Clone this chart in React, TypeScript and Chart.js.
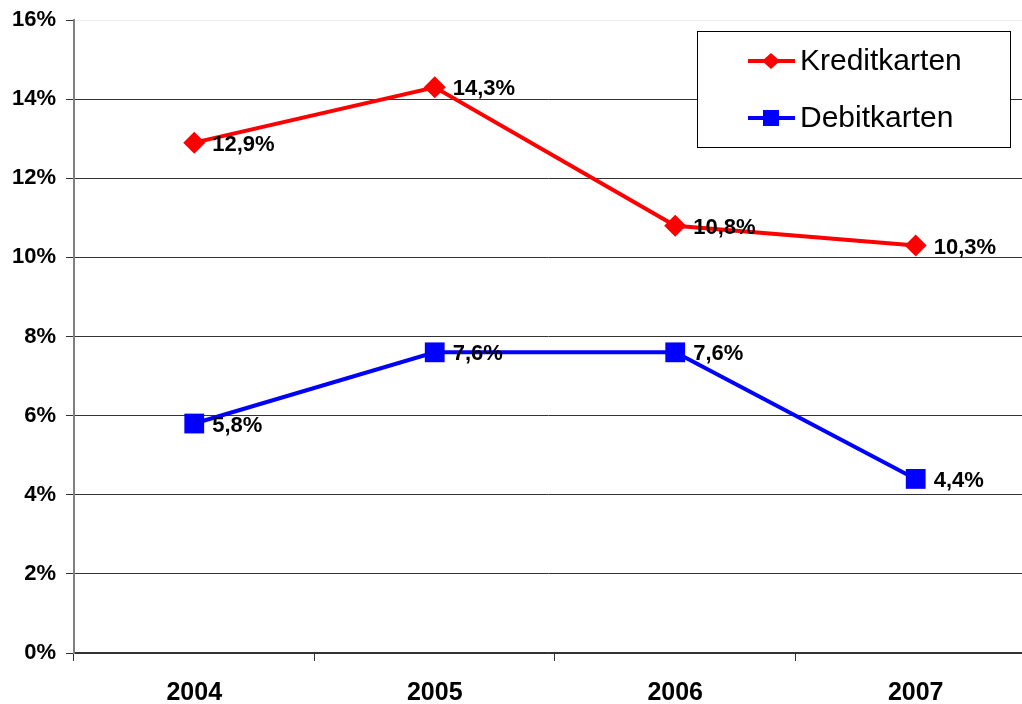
import React, { useEffect, useRef } from "react";
import { Chart, registerables } from "chart.js";

Chart.register(...registerables);

const categories = ["2004", "2005", "2006", "2007"];
const kreditValues = [12.9, 14.3, 10.8, 10.3];
const debitValues = [5.8, 7.6, 7.6, 4.4];
const seriesNames = ["Kreditkarten", "Debitkarten"];
const yTicks = [0, 2, 4, 6, 8, 10, 12, 14, 16];
const seriesValues = [kreditValues, debitValues];

const FONT = "'Liberation Sans', Arial, sans-serif";
// visible part of the category axis (the plot runs slightly past the right edge)
const X_MIN = -0.5;
const X_MAX = 3.442;

const dataLabelPlugin = {
  id: "dataLabels",
  afterDatasetsDraw(chart: any) {
    const ctx = chart.ctx;
    ctx.save();
    ctx.font = `bold 22px ${FONT}`;
    ctx.fillStyle = "#000";
    ctx.textAlign = "left";
    ctx.textBaseline = "middle";
    chart.data.datasets.forEach((_ds: any, i: number) => {
      const meta = chart.getDatasetMeta(i);
      meta.data.forEach((pt: any, j: number) => {
        const v = seriesValues[i][j];
        const txt = v.toFixed(1).replace(".", ",") + "%";
        ctx.fillText(txt, pt.x + 18, pt.y + 2);
      });
    });
    ctx.restore();
  },
};

const legendPlugin = {
  id: "customLegend",
  afterDraw(chart: any) {
    const ctx = chart.ctx;
    ctx.save();
    const x0 = 697, y0 = 31, w = 313, h = 116;
    ctx.fillStyle = "#fff";
    ctx.fillRect(x0, y0, w, h);
    ctx.strokeStyle = "#000";
    ctx.lineWidth = 1;
    ctx.strokeRect(x0 + 0.5, y0 + 0.5, w, h);
    const rows = [
      { y: 61, color: "#ff0000", style: "rectRot", r: 8 },
      { y: 118, color: "#0000ff", style: "rect", r: 12 },
    ];
    rows.forEach((row, i) => {
      ctx.strokeStyle = row.color;
      ctx.lineWidth = 4;
      ctx.beginPath();
      ctx.moveTo(748, row.y);
      ctx.lineTo(795, row.y);
      ctx.stroke();
      ctx.fillStyle = row.color;
      if (row.style === "rectRot") {
        ctx.beginPath();
        ctx.moveTo(771, row.y - row.r);
        ctx.lineTo(771 + row.r + 1, row.y);
        ctx.lineTo(771, row.y + row.r);
        ctx.lineTo(771 - row.r - 1, row.y);
        ctx.closePath();
        ctx.fill();
      } else {
        ctx.fillRect(771 - 8, row.y - 8, 16, 16);
      }
      ctx.fillStyle = "#000";
      ctx.font = `30px ${FONT}`;
      ctx.textAlign = "left";
      ctx.textBaseline = "middle";
      ctx.fillText(seriesNames[i], 800, row.y + 1);
    });
    ctx.restore();
  },
};

export default function App() {
  const ref = useRef<HTMLCanvasElement | null>(null);
  useEffect(() => {
    if (!ref.current) return;
    document.body.style.margin = "0";
    const chart = new Chart(ref.current, {
      type: "line",
      data: {
        datasets: [
          {
            label: seriesNames[0],
            data: kreditValues.map((v, i) => ({ x: i, y: v })),
            borderColor: "#ff0000",
            backgroundColor: "#ff0000",
            borderWidth: 4,
            pointStyle: "rectRot",
            pointRadius: 11,
            pointBorderWidth: 0,
            tension: 0,
          },
          {
            label: seriesNames[1],
            data: debitValues.map((v, i) => ({ x: i, y: v })),
            borderColor: "#0000ff",
            backgroundColor: "#0000ff",
            borderWidth: 4,
            pointStyle: "rect",
            pointRadius: 14,
            pointBorderWidth: 0,
            tension: 0,
          },
        ],
      },
      options: {
        animation: false,
        responsive: false,
        maintainAspectRatio: false,
        layout: { autoPadding: false, padding: { top: 20, right: 0, left: 0, bottom: 0 } },
        plugins: {
          legend: { display: false },
          tooltip: { enabled: false },
        },
        scales: {
          x: {
            type: "linear",
            min: X_MIN,
            max: X_MAX,
            afterFit(scale: any) {
              scale.height = 51;
              scale.paddingLeft = 0;
              scale.paddingRight = 0;
            },
            afterBuildTicks(scale: any) {
              scale.ticks = categories.map((_c, i) => ({ value: i }));
            },
            grid: {
              offset: true,
              drawOnChartArea: false,
              drawTicks: true,
              tickLength: 8,
              color: "#333",
              lineWidth: 1,
            },
            border: { display: true, color: "#333", width: 1.5 },
            ticks: {
              color: "#000",
              font: { family: FONT, size: 25, weight: "bold" },
              padding: 17,
              maxRotation: 0,
              autoSkip: false,
              callback: (v: any) => categories[Math.round(Number(v))] ?? "",
            },
          },
          y: {
            min: 0,
            max: 16,
            afterFit(scale: any) {
              scale.width = 74;
              scale.paddingTop = 0;
              scale.paddingBottom = 0;
            },
            afterBuildTicks(scale: any) {
              scale.ticks = yTicks.map((v) => ({ value: v }));
            },
            grid: {
              color: (c: any) => (c.tick && c.tick.value === 16 ? "#eeeeee" : "#333333"),
              lineWidth: 1,
              tickLength: 8,
              tickColor: "#333",
            },
            border: { display: true, color: "#808080", width: 2 },
            ticks: {
              color: "#000",
              font: { family: FONT, size: 22, weight: "bold" },
              padding: 10,
              callback: (v: any) => `${v}%`,
            },
          },
        },
      },
      plugins: [dataLabelPlugin, legendPlugin],
    });
    return () => chart.destroy();
  }, []);
  return (
    <div style={{ width: 1022, height: 704, background: "#fff" }}>
      <canvas ref={ref} width={1022} height={704} style={{ width: 1022, height: 704, display: "block" }} />
    </div>
  );
}
